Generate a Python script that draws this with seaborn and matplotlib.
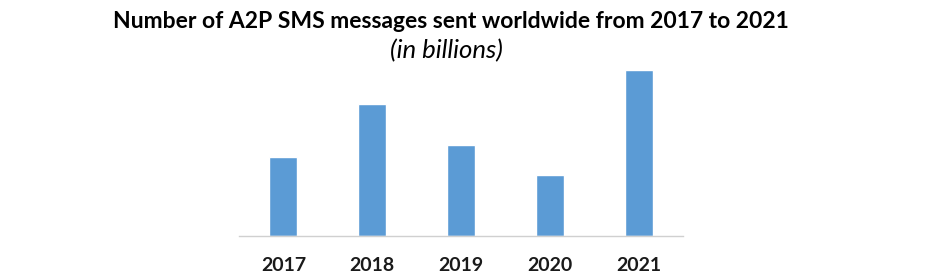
import matplotlib
matplotlib.use("Agg")
import matplotlib.pyplot as plt
import seaborn as sns
import pandas as pd

years = ["2017", "2018", "2019", "2020", "2021"]
messages = [79, 132, 91, 61, 166]

sns.set_theme(style="white")
plt.rcParams['font.family'] = ['Lato', 'DejaVu Sans']

df = pd.DataFrame({"year": years, "messages": messages})

fig = plt.figure(figsize=(9.41, 2.8), dpi=100)
ax = fig.add_axes([239/941, 1 - 236/280, 444/941, 176/280])
sns.barplot(data=df, x="year", y="messages", color="#5B9BD5", saturation=1,
            width=0.315, ax=ax)
ax.set_ylim(0, 176)
ax.set_xlim(-0.5, 4.5)
for s in ["top", "right", "left"]:
    ax.spines[s].set_visible(False)
ax.spines["bottom"].set_color("#D0D0D0")
ax.spines["bottom"].set_linewidth(1)
ax.set_yticks([])
ax.set_xlabel("")
ax.set_ylabel("")
ax.tick_params(axis="x", length=0, pad=15)
for lbl in ax.get_xticklabels():
    lbl.set_fontweight("bold")
    lbl.set_fontsize(14)
    lbl.set_color("#1a1a1a")

fig.text(451/941, 1 - 22/280, "Number of A2P SMS messages sent worldwide from 2017 to 2021",
         ha="center", va="center", fontsize=16.5, fontweight="bold", color="black")
fig.text(446/941, 1 - 51/280, "(in billions)", ha="center", va="center",
         fontsize=18.5, fontstyle="italic", color="black")

fig.savefig("out.png", dpi=100)
